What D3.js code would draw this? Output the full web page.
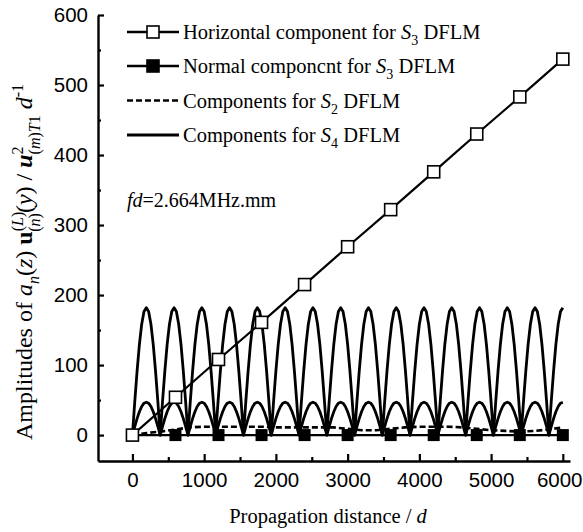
<!DOCTYPE html>
<html><head><meta charset="utf-8">
<script src="https://cdn.jsdelivr.net/npm/d3@7"></script>
<style>
html,body{margin:0;padding:0;background:#fff;}
svg{display:block;}
.serif{font-family:"Liberation Serif","Times New Roman",serif;}
.sans{font-family:"Liberation Sans",Arial,sans-serif;}
</style></head>
<body><svg id="c" width="583" height="532"></svg>
<script>
// ---- data ----
const xTicks = [0, 1000, 2000, 3000, 4000, 5000, 6000];
const xMinorTicks = [500, 1500, 2500, 3500, 4500, 5500];
const yTicks = [0, 100, 200, 300, 400, 500, 600];
const yMinorTicks = [50, 150, 250, 350, 450, 550];

// S3 DFLM, markers every 600 d
const s3X = [0, 600, 1200, 1800, 2400, 3000, 3600, 4200, 4800, 5400, 6000];
const s3Horizontal = [0, 54, 108, 161, 215, 269, 322, 376, 430, 483, 537];
const s3Normal = [0, 0, 0, 0, 0, 0, 0, 0, 0, 0, 0];

// S2 DFLM (dashed, small)
const s2X = [0, 200, 400, 600, 800, 1000, 1200, 1400, 1600, 1800, 2000, 2200, 2400, 2600, 2800, 3000,
             3200, 3400, 3600, 3800, 4000, 4200, 4400, 4600, 4800, 5000, 5200, 5400, 5600, 5800, 6000];
const s2Y = [0, 3, 5, 8, 11, 12, 12, 12, 12, 12, 11, 11, 11, 11, 11, 9,
             7, 7, 9, 11, 12, 12, 12, 11, 9, 7, 6, 5, 6, 8, 11];

// S4 DFLM: zero crossings (cusps) and arch peaks of the two components
const s4Zeros = [0, 387, 774, 1161, 1548, 1935, 2323, 2710, 3097, 3484, 3871, 4258, 4645, 5032, 5419, 5806];
const s4End = 6000;
const s4BigPeak = 182;
const s4SmallPeak = 47;
// arch profile as fraction of its peak, 12 equal steps across one arch
const archShape = [0, 0.26, 0.5, 0.71, 0.87, 0.97, 1, 0.97, 0.87, 0.71, 0.5, 0.26, 0];

// ---- chart ----
const svg = d3.select("#c");
const x = d3.scaleLinear().domain([-480, 6100]).range([98, 570]);
const y = d3.scaleLinear().domain([-37, 600]).range([461, 15]);

function archPoints(peak) {
  const pts = [];
  for (let k = 0; k < s4Zeros.length; k++) {
    const z0 = s4Zeros[k];
    const z1 = k + 1 < s4Zeros.length ? s4Zeros[k + 1] : null;
    if (z1 !== null) {
      archShape.forEach((f, i) => { if (k === 0 || i > 0) pts.push([z0 + (z1 - z0) * i / 12, peak * f]); });
    } else {
      const half = s4End - z0;
      for (let i = 1; i <= 6; i++) pts.push([z0 + 2 * half * i / 12, peak * archShape[i]]);
    }
  }
  return pts;
}

const line = d3.line().x(d => x(d[0])).y(d => y(d[1]));
const MS = 12; // marker size

// S4 components
[s4BigPeak, s4SmallPeak].forEach(p => {
  svg.append("path").attr("d", line(archPoints(p)))
    .attr("fill", "none").attr("stroke", "#000").attr("stroke-width", 2.8)
    .attr("stroke-linejoin", "round");
});

// S2 dashed
svg.append("path").attr("d", line(s2X.map((v, i) => [v, s2Y[i]])))
  .attr("fill", "none").attr("stroke", "#000").attr("stroke-width", 2.6)
  .attr("stroke-dasharray", "6,3");

// S3 normal
svg.append("path").attr("d", line(s3X.map((v, i) => [v, s3Normal[i]])))
  .attr("fill", "none").attr("stroke", "#000").attr("stroke-width", 2.2);
svg.selectAll(".nm").data(s3X).enter().append("rect")
  .attr("x", (d) => x(d) - MS / 2).attr("y", (d, i) => y(s3Normal[i]) - MS / 2)
  .attr("width", MS).attr("height", MS).attr("fill", "#000");

// S3 horizontal
svg.append("path").attr("d", line(s3X.map((v, i) => [v, s3Horizontal[i]])))
  .attr("fill", "none").attr("stroke", "#000").attr("stroke-width", 2.2);
svg.selectAll(".hm").data(s3X).enter().append("rect")
  .attr("x", (d) => x(d) - MS / 2).attr("y", (d, i) => y(s3Horizontal[i]) - MS / 2)
  .attr("width", MS).attr("height", MS).attr("fill", "#fff")
  .attr("stroke", "#000").attr("stroke-width", 1.6);

// axes
const gx = svg.append("g").attr("transform", `translate(0,${y.range()[0]})`);
gx.call(d3.axisBottom(x).tickValues(xTicks).tickSizeInner(-7).tickSizeOuter(0).tickPadding(11).tickFormat(d3.format("d")));
const gxm = svg.append("g").attr("transform", `translate(0,${y.range()[0]})`);
gxm.call(d3.axisBottom(x).tickValues(xMinorTicks).tickSizeInner(-4).tickSizeOuter(0).tickFormat(""));
gxm.select(".domain").remove();

const gy = svg.append("g").attr("transform", `translate(${x.range()[0]},0)`);
gy.call(d3.axisLeft(y).tickValues(yTicks).tickSizeInner(-6).tickSizeOuter(0).tickPadding(10).tickFormat(d3.format("d")));
const gym = svg.append("g").attr("transform", `translate(${x.range()[0]},0)`);
gym.call(d3.axisLeft(y).tickValues(yMinorTicks).tickSizeInner(-3).tickSizeOuter(0).tickFormat(""));
gym.select(".domain").remove();

svg.selectAll(".domain").attr("stroke", "#000").attr("stroke-width", 2.4);
svg.selectAll(".tick line").attr("stroke", "#000").attr("stroke-width", 2.2);
svg.selectAll(".tick text").attr("font-family", "'Liberation Sans', Arial, sans-serif")
  .attr("font-size", 20.5).attr("fill", "#000");
// keep the last x label inside the page
gx.selectAll(".tick text").filter(d => d === 6000)
  .attr("text-anchor", "end").attr("x", 582 - x(6000));

// legend
const legend = [
  {y: 32, type: "open", pre: "Horizontal component for ", sub: "3"},
  {y: 66, type: "filled", pre: "Normal componcnt for ", sub: "3"},
  {y: 100.5, type: "dash", pre: "Components for ", sub: "2"},
  {y: 135, type: "solid", pre: "Components for ", sub: "4"}
];
const lg = svg.append("g");
legend.forEach(l => {
  const ln = lg.append("line").attr("x1", 127).attr("x2", 179).attr("y1", l.y).attr("y2", l.y)
    .attr("stroke", "#000").attr("stroke-width", l.type === "solid" ? 2.8 : 2.4);
  if (l.type === "dash") ln.attr("stroke-dasharray", "6,3");
  if (l.type === "open" || l.type === "filled") {
    lg.append("rect").attr("x", 153 - MS / 2).attr("y", l.y - MS / 2).attr("width", MS).attr("height", MS)
      .attr("fill", l.type === "open" ? "#fff" : "#000").attr("stroke", "#000").attr("stroke-width", 1.6);
  }
  const t = lg.append("text").attr("class", "serif").attr("x", 183).attr("y", l.y + 7)
    .attr("font-size", 20.5).attr("fill", "#000");
  t.append("tspan").text(l.pre);
  t.append("tspan").attr("font-style", "italic").text("S");
  t.append("tspan").attr("font-size", 14).attr("dy", 6).text(l.sub);
  t.append("tspan").attr("dy", -6).text(" DFLM");
});

// fd annotation
const fd = svg.append("text").attr("class", "serif").attr("x", 127).attr("y", 207)
  .attr("font-size", 20).attr("fill", "#000");
fd.append("tspan").attr("font-style", "italic").text("fd");
fd.append("tspan").text("=2.664MHz.mm");

// x label
const xl = svg.append("text").attr("class", "serif").attr("x", 328).attr("y", 523)
  .attr("text-anchor", "middle").attr("font-size", 20.5).attr("fill", "#000");
xl.append("tspan").text("Propagation distance / ");
xl.append("tspan").attr("font-style", "italic").text("d");

// y label
const yl = svg.append("text").attr("class", "serif")
  .attr("transform", "translate(32,262) rotate(-90)")
  .attr("text-anchor", "middle").attr("font-size", 24).attr("fill", "#000");
yl.append("tspan").text("Amplitudes of  ");
yl.append("tspan").attr("font-style", "italic").text("a");
yl.append("tspan").attr("font-style", "italic").attr("font-size", 16).attr("dy", 7).text("n");
yl.append("tspan").attr("dy", -7).text("(");
yl.append("tspan").attr("font-style", "italic").text("z");
yl.append("tspan").text(") ");
yl.append("tspan").attr("font-weight", "bold").text("u");
yl.append("tspan").attr("font-size", 16).attr("dy", -9).text("(");
yl.append("tspan").attr("font-size", 16).attr("font-style", "italic").text("L");
yl.append("tspan").attr("font-size", 16).text(")");
yl.append("tspan").attr("font-size", 16).attr("dx", -20).attr("dy", 17).text("(");
yl.append("tspan").attr("font-size", 16).attr("font-style", "italic").text("n");
yl.append("tspan").attr("font-size", 16).text(")");
yl.append("tspan").attr("dy", -8).text("(");
yl.append("tspan").attr("font-style", "italic").text("y");
yl.append("tspan").text(")  /  ");
yl.append("tspan").attr("font-weight", "bold").attr("font-style", "italic").text("u");
yl.append("tspan").attr("font-size", 16).attr("dy", -9).text("2");
yl.append("tspan").attr("font-size", 16).attr("dx", -8).attr("dy", 17).text("(");
yl.append("tspan").attr("font-size", 16).attr("font-style", "italic").text("m");
yl.append("tspan").attr("font-size", 16).text(")");
yl.append("tspan").attr("font-size", 16).attr("font-style", "italic").text("T");
yl.append("tspan").attr("font-size", 16).text("1");
yl.append("tspan").attr("dy", -8).text(" ");
yl.append("tspan").attr("font-style", "italic").text("d");
yl.append("tspan").attr("font-size", 16).attr("dy", -9).text("-1");
</script></body></html>
